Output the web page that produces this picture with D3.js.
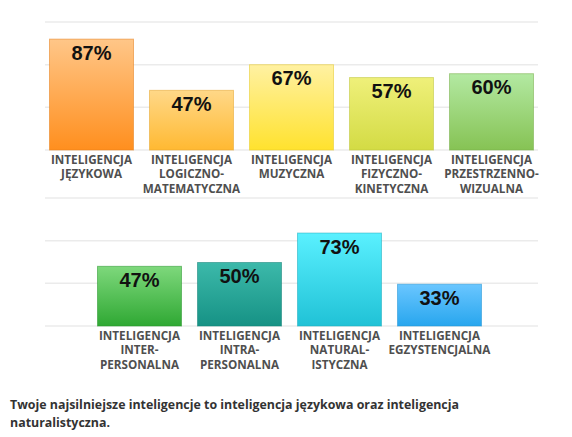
<!DOCTYPE html>
<html>
<head>
<meta charset="utf-8">
<script src="https://cdn.jsdelivr.net/npm/d3@7/dist/d3.min.js"></script>
<style>
  html, body { margin: 0; padding: 0; background: #fff; }
  svg { display: block; }
</style>
</head>
<body>
<svg id="chart" width="572" height="437"></svg>
<script>
// top row
var topLabels = [
  ['INTELIGENCJA', 'JĘZYKOWA'],
  ['INTELIGENCJA', 'LOGICZNO-', 'MATEMATYCZNA'],
  ['INTELIGENCJA', 'MUZYCZNA'],
  ['INTELIGENCJA', 'FIZYCZNO-', 'KINETYCZNA'],
  ['INTELIGENCJA', 'PRZESTRZENNO-', 'WIZUALNA']
];
var topValues = [87, 47, 67, 57, 60];
var topColors = [
  ['#ffc688', '#ff8f1e'],
  ['#ffd888', '#ffb932'],
  ['#fff1a2', '#ffe22e'],
  ['#eff07a', '#d3db44'],
  ['#b3e9a2', '#86c354']
];

// bottom row
var bottomLabels = [
  ['INTELIGENCJA', 'INTER-', 'PERSONALNA'],
  ['INTELIGENCJA', 'INTRA-', 'PERSONALNA'],
  ['INTELIGENCJA', 'NATURAL-', 'ISTYCZNA'],
  ['INTELIGENCJA', 'EGZYSTENCJALNA']
];
var bottomValues = [47, 50, 73, 33];
var bottomColors = [
  ['#7ed87c', '#2fa833'],
  ['#3cb9aa', '#169285'],
  ['#5af0ff', '#20c2d6'],
  ['#6ac6ff', '#28a6ee']
];

var gridTicks = [0, 33.33, 66.67, 100];
var caption = [
  'Twoje najsilniejsze inteligencje to inteligencja językowa oraz inteligencja',
  'naturalistyczna.'
];

var svg = d3.select('#chart');
var defs = svg.append('defs');

function drawRow(opts) {
  var y = d3.scaleLinear().domain([0, 100]).range([opts.base, opts.base - 128]);
  var x = d3.scaleBand()
    .domain(d3.range(opts.values.length))
    .range(opts.xRange)
    .paddingInner(0.15)
    .paddingOuter(0.075);

  var g = svg.append('g');

  g.selectAll('line.grid')
    .data(gridTicks)
    .join('line')
    .attr('class', 'grid')
    .attr('x1', 45)
    .attr('x2', 538)
    .attr('y1', function (d) { return y(d); })
    .attr('y2', function (d) { return y(d); })
    .attr('stroke', '#ebebeb')
    .attr('stroke-width', 1.5);

  opts.colors.forEach(function (c, i) {
    var grad = defs.append('linearGradient')
      .attr('id', opts.id + i)
      .attr('x1', 0).attr('y1', 0).attr('x2', 0).attr('y2', 1);
    grad.append('stop').attr('offset', '0%').attr('stop-color', c[0]);
    grad.append('stop').attr('offset', '100%').attr('stop-color', c[1]);
  });

  g.selectAll('rect.bar')
    .data(opts.values)
    .join('rect')
    .attr('class', 'bar')
    .attr('x', function (d, i) { return x(i) + 0.5; })
    .attr('y', function (d) { return y(d) + 0.5; })
    .attr('width', x.bandwidth() - 1)
    .attr('height', function (d) { return opts.base - y(d) - 0.5; })
    .attr('fill', function (d, i) { return 'url(#' + opts.id + i + ')'; })
    .attr('stroke', function (d, i) { return d3.color(opts.colors[i][1]).darker(0.3); })
    .attr('stroke-opacity', 0.55)
    .attr('stroke-width', 1);

  g.selectAll('text.value')
    .data(opts.values)
    .join('text')
    .attr('class', 'value')
    .attr('x', function (d, i) { return x(i) + x.bandwidth() / 2; })
    .attr('y', function (d) { return y(d) + 21; })
    .attr('text-anchor', 'middle')
    .attr('font-family', '"Liberation Sans", Arial, sans-serif')
    .attr('font-weight', 'bold')
    .attr('font-size', 20)
    .attr('fill', '#111')
    .text(function (d) { return d + '%'; });

  var labels = g.selectAll('text.label')
    .data(opts.labels)
    .join('text')
    .attr('class', 'label')
    .attr('x', function (d, i) { return x(i) + x.bandwidth() / 2; })
    .attr('y', opts.base + 13.5)
    .attr('text-anchor', 'middle')
    .attr('font-family', '"Open Sans", sans-serif')
    .attr('font-weight', 'bold')
    .attr('font-size', 11.7)
    .attr('fill', '#4f4f4f');

  labels.selectAll('tspan')
    .data(function (d) { return d; })
    .join('tspan')
    .attr('x', function () { return this.parentNode.getAttribute('x'); })
    .attr('dy', function (d, i) { return i === 0 ? 0 : 14.5; })
    .text(function (d) { return d; });
}

drawRow({ id: 'gt', values: topValues, labels: topLabels, colors: topColors,
  base: 150, xRange: [41.5, 541.5] });
drawRow({ id: 'gb', values: bottomValues, labels: bottomLabels, colors: bottomColors,
  base: 326, xRange: [89.5, 489.5] });

svg.append('text')
  .attr('x', 10)
  .attr('y', 409)
  .attr('font-family', '"Open Sans", sans-serif')
  .attr('font-weight', 'bold')
  .attr('font-size', 12.4)
  .attr('fill', '#333')
  .selectAll('tspan')
  .data(caption)
  .join('tspan')
  .attr('x', 10)
  .attr('dy', function (d, i) { return i === 0 ? 0 : 18; })
  .text(function (d) { return d; });
</script>
</body>
</html>
